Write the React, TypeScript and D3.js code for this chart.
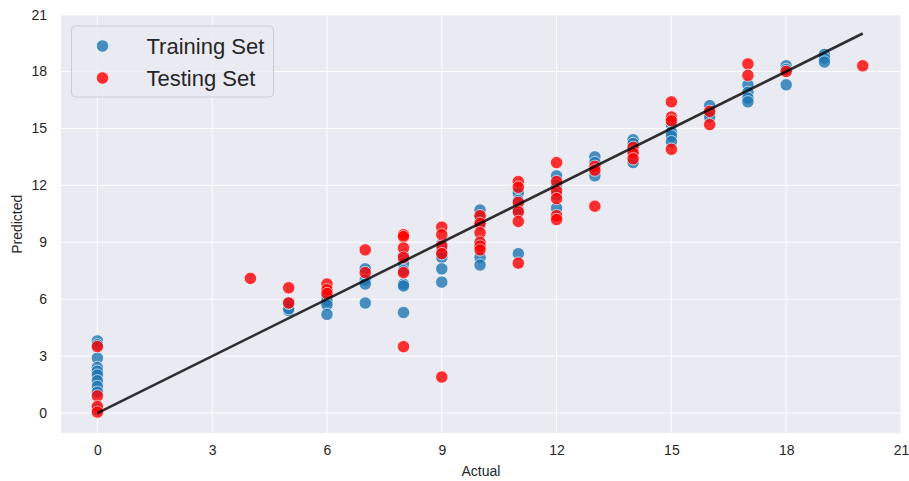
import React, { useRef, useEffect } from 'react';
import * as d3 from 'd3';

// actual value -> list of predicted values
const trainX = [0, 5, 6, 7, 8, 9, 10, 11, 12, 13, 14, 15, 16, 17, 18, 19];
const trainY = [
  [3.8, 3.6, 2.9, 2.4, 2.2, 2.0, 1.7, 1.4, 1.1, 0.2],
  [5.4, 5.5, 5.8],
  [6.1, 5.9, 5.7, 5.2],
  [7.6, 7.0, 6.8, 5.8],
  [8.3, 7.9, 7.5, 6.8, 6.7, 5.3],
  [8.9, 8.5, 8.2, 7.6, 6.9],
  [10.7, 10.3, 9.9, 8.9, 8.2, 7.8],
  [11.6, 11.2, 10.7, 8.4],
  [12.5, 12.0, 11.5, 10.8],
  [13.5, 13.2, 12.9, 12.5],
  [14.4, 14.2, 13.8, 13.2],
  [15.2, 14.8, 14.6, 14.3],
  [16.2, 15.8, 15.6],
  [17.3, 16.9, 16.6, 16.4],
  [18.3, 18.1, 17.3],
  [18.9, 18.7, 18.5],
];

const testX = [0, 4, 5, 6, 7, 8, 9, 10, 11, 12, 13, 14, 15, 16, 17, 18, 20];
const testY = [
  [3.5, 0.9, 0.35, 0.05],
  [7.1],
  [6.6, 5.8],
  [6.8, 6.5, 6.3],
  [8.6, 7.4],
  [9.4, 9.3, 8.7, 8.2, 7.4, 3.5],
  [9.8, 9.4, 8.8, 8.4, 1.9],
  [10.4, 10.0, 9.5, 9.0, 8.8, 8.6],
  [12.2, 11.9, 11.1, 10.6, 10.1, 7.9],
  [13.2, 12.2, 11.7, 11.3, 10.4, 10.2],
  [13.0, 12.8, 10.9],
  [14.0, 13.7, 13.4],
  [16.4, 15.6, 15.4, 13.9],
  [15.9, 15.2],
  [18.4, 17.8],
  [18.0],
  [18.3],
];

const ticks = [0, 3, 6, 9, 12, 15, 18, 21];
const idealLine = [0, 20];
const legendLabels = ['Training Set', 'Testing Set'];

const W = 909;
const H = 481;

const App = () => {
  const ref = useRef(null);

  useEffect(() => {
    if (!ref.current) return;
    d3.select(ref.current).selectAll('*').remove();

    const margin = { top: 15.5, right: 8, bottom: 48, left: 61 };
    const width = 901 - margin.left;
    const height = 433 - margin.top;
    const font = '"Liberation Sans", Arial, sans-serif';

    const svg = d3.select(ref.current)
      .attr('width', W)
      .attr('height', H)
      .style('position', 'absolute')
      .style('left', '0px')
      .style('top', '0px')
      .style('font-family', font);

    svg.append('rect').attr('width', W).attr('height', H).attr('fill', '#fff');

    const g = svg.append('g').attr('transform', `translate(${margin.left},${margin.top})`);

    const x = d3.scaleLinear().domain([-0.95, 21]).range([0, width]);
    const y = d3.scaleLinear().domain([-1.05, 20.95]).range([height, 0]);

    g.append('rect').attr('width', width).attr('height', height).attr('fill', '#eaeaf2');

    // grid
    g.append('g').selectAll('line').data(ticks).join('line')
      .attr('x1', d => x(d)).attr('x2', d => x(d))
      .attr('y1', 0).attr('y2', height)
      .attr('stroke', '#fff').attr('stroke-width', 1);
    g.append('g').selectAll('line').data(ticks).join('line')
      .attr('y1', d => y(d)).attr('y2', d => y(d))
      .attr('x1', 0).attr('x2', width)
      .attr('stroke', '#fff').attr('stroke-width', 1);

    // axes
    const xAxis = g.append('g')
      .attr('transform', `translate(0,${height})`)
      .call(d3.axisBottom(x).tickValues(ticks).tickSize(0).tickPadding(12));
    const yAxis = g.append('g')
      .call(d3.axisLeft(y).tickValues(ticks).tickSize(0).tickPadding(14));
    [xAxis, yAxis].forEach(a => {
      a.select('.domain').remove();
      a.selectAll('text')
        .attr('fill', '#262626')
        .style('font-size', '14px')
        .style('font-family', font);
    });

    svg.append('text')
      .attr('x', margin.left + width / 2)
      .attr('y', 476)
      .attr('text-anchor', 'middle')
      .attr('fill', '#262626')
      .style('font-size', '14px')
      .text('Actual');
    svg.append('text')
      .attr('transform', `translate(22,${margin.top + height / 2}) rotate(-90)`)
      .attr('text-anchor', 'middle')
      .attr('fill', '#262626')
      .style('font-size', '14px')
      .text('Predicted');

    const train = trainX.flatMap((a, i) => trainY[i].map(p => ({ a, p })));
    const test = testX.flatMap((a, i) => testY[i].map(p => ({ a, p })));

    const drawPoints = (data, color) => {
      g.append('g').selectAll('circle').data(data).join('circle')
        .attr('cx', d => x(d.a))
        .attr('cy', d => y(d.p))
        .attr('r', 6.2)
        .attr('fill', color)
        .attr('stroke', '#fff')
        .attr('stroke-width', 0.8)
        .attr('opacity', 0.8);
    };
    drawPoints(train, '#1f77b4');
    drawPoints(test, '#ff0000');

    g.append('path')
      .datum(idealLine)
      .attr('fill', 'none')
      .attr('stroke', '#000')
      .attr('stroke-opacity', 0.8)
      .attr('stroke-width', 2.6)
      .attr('d', d3.line().x(d => x(d)).y(d => y(d)));

    // legend
    const lg = svg.append('g').attr('transform', 'translate(71.5,26)');
    lg.append('rect')
      .attr('width', 202).attr('height', 71)
      .attr('rx', 4)
      .attr('fill', '#eaeaf2').attr('fill-opacity', 0.8)
      .attr('stroke', '#cccccc').attr('stroke-width', 1);
    const colors = ['#1f77b4', '#ff0000'];
    legendLabels.forEach((label, i) => {
      lg.append('circle')
        .attr('cx', 31).attr('cy', 20 + i * 32)
        .attr('r', 6.2)
        .attr('fill', colors[i]).attr('opacity', 0.8)
        .attr('stroke', '#fff').attr('stroke-width', 0.8);
      lg.append('text')
        .attr('x', 75).attr('y', 20 + i * 32)
        .attr('dy', '0.35em')
        .attr('fill', '#262626')
        .style('font-size', '22px')
        .text(label);
    });
  }, []);

  return <svg ref={ref}></svg>;
};

export default App;
